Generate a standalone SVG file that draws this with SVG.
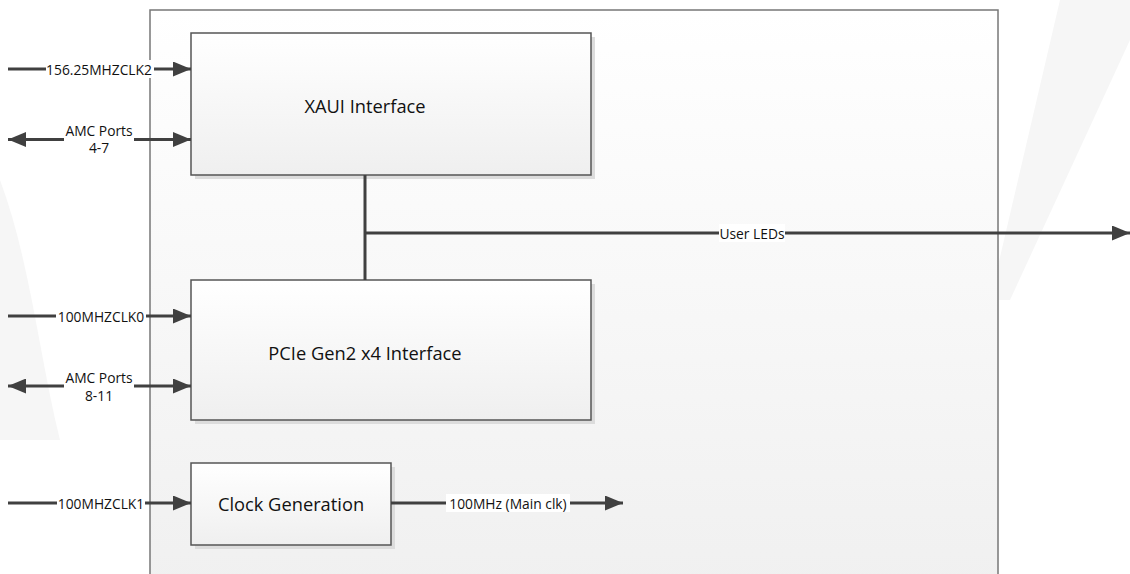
<svg xmlns="http://www.w3.org/2000/svg" width="1130" height="574" viewBox="0 0 1130 574">
<defs>
<linearGradient id="gBox" x1="0" y1="0" x2="0" y2="1"><stop offset="0" stop-color="#ffffff"/><stop offset="1" stop-color="#efefef"/></linearGradient>
<linearGradient id="gCont" x1="0" y1="0" x2="0" y2="1"><stop offset="0" stop-color="#ffffff"/><stop offset="1" stop-color="#f0f0f0"/></linearGradient>
<marker id="ah" viewBox="0 0 18 15" refX="18" refY="7.5" markerWidth="18" markerHeight="15" markerUnits="userSpaceOnUse" orient="auto-start-reverse"><path d="M0,0 L18,7.5 L0,15 Z" fill="#404040"/></marker>
<style>
.box{fill:url(#gBox);stroke:#555;stroke-width:1.5}
.sh{fill:#dcdcdc}
.ttl{font-family:"Open Sans","Liberation Sans",sans-serif;font-size:18.3px;fill:#111;text-anchor:middle;dominant-baseline:central}
.lbl{font-family:"Open Sans","Liberation Sans",sans-serif;font-size:13.8px;fill:#111;text-anchor:middle;dominant-baseline:central}
.ln{stroke:#404040;stroke-width:3;fill:none}
.bg{fill:#ffffff}
</style>
</defs>
<rect width="1130" height="574" fill="#ffffff"/>
<g id="watermark" fill="#f6f6f6">
<path d="M1060,0 L1130,0 L1130,40 L1010,300 L990,300 Z"/>
<path d="M0,180 C30,260 40,360 60,440 L0,440 Z"/>
</g>
<g id="board">
<rect x="150" y="10" width="848" height="580" fill="url(#gCont)" stroke="#777" stroke-width="1.5"/>
</g>
<g id="xaui">
<rect class="sh" x="195" y="37" width="400" height="142"/>
<rect class="box" x="191" y="33" width="400" height="142"/>
<text class="ttl" x="365" y="105">XAUI Interface</text>
</g>
<g id="pcie">
<rect class="sh" x="195" y="284" width="400" height="140"/>
<rect class="box" x="191" y="280" width="400" height="140"/>
<text class="ttl" x="365" y="352">PCIe Gen2 x4 Interface</text>
</g>
<g id="clkgen">
<rect class="sh" x="195" y="467" width="200" height="82"/>
<rect class="box" x="191" y="463" width="200" height="82"/>
<text class="ttl" x="291" y="503">Clock Generation</text>
</g>
<g id="connectors">
<line class="ln" x1="8" y1="69" x2="191" y2="69" marker-end="url(#ah)"/>
<rect class="bg" x="46" y="60" width="108" height="18"/>
<text class="lbl" x="99" y="69">156.25MHZCLK2</text>

<line class="ln" x1="8" y1="139.5" x2="191" y2="139.5" marker-start="url(#ah)" marker-end="url(#ah)"/>
<rect class="bg" x="64" y="121" width="70" height="36"/>
<text class="lbl" x="99" y="130">AMC Ports</text>
<text class="lbl" x="99" y="147">4-7</text>

<line class="ln" x1="8" y1="316" x2="191" y2="316" marker-end="url(#ah)"/>
<rect class="bg" x="56" y="307" width="90" height="18"/>
<text class="lbl" x="101" y="316">100MHZCLK0</text>

<line class="ln" x1="8" y1="386" x2="191" y2="386" marker-start="url(#ah)" marker-end="url(#ah)"/>
<rect class="bg" x="64" y="368" width="70" height="36"/>
<text class="lbl" x="99" y="377">AMC Ports</text>
<text class="lbl" x="99" y="395">8-11</text>

<line class="ln" x1="8" y1="503" x2="191" y2="503" marker-end="url(#ah)"/>
<rect class="bg" x="57" y="494" width="88" height="18"/>
<text class="lbl" x="101" y="503">100MHZCLK1</text>

<line class="ln" x1="391" y1="503" x2="623" y2="503" marker-end="url(#ah)"/>
<rect class="bg" x="446" y="494" width="124" height="18"/>
<text class="lbl" x="508" y="503">100MHz (Main clk)</text>

<line class="ln" x1="365" y1="175" x2="365" y2="280"/>
<line class="ln" x1="364" y1="233" x2="1130" y2="233" marker-end="url(#ah)"/>
<rect class="bg" x="719" y="224" width="66" height="18"/>
<text class="lbl" x="752" y="233">User LEDs</text>
</g>
</svg>
